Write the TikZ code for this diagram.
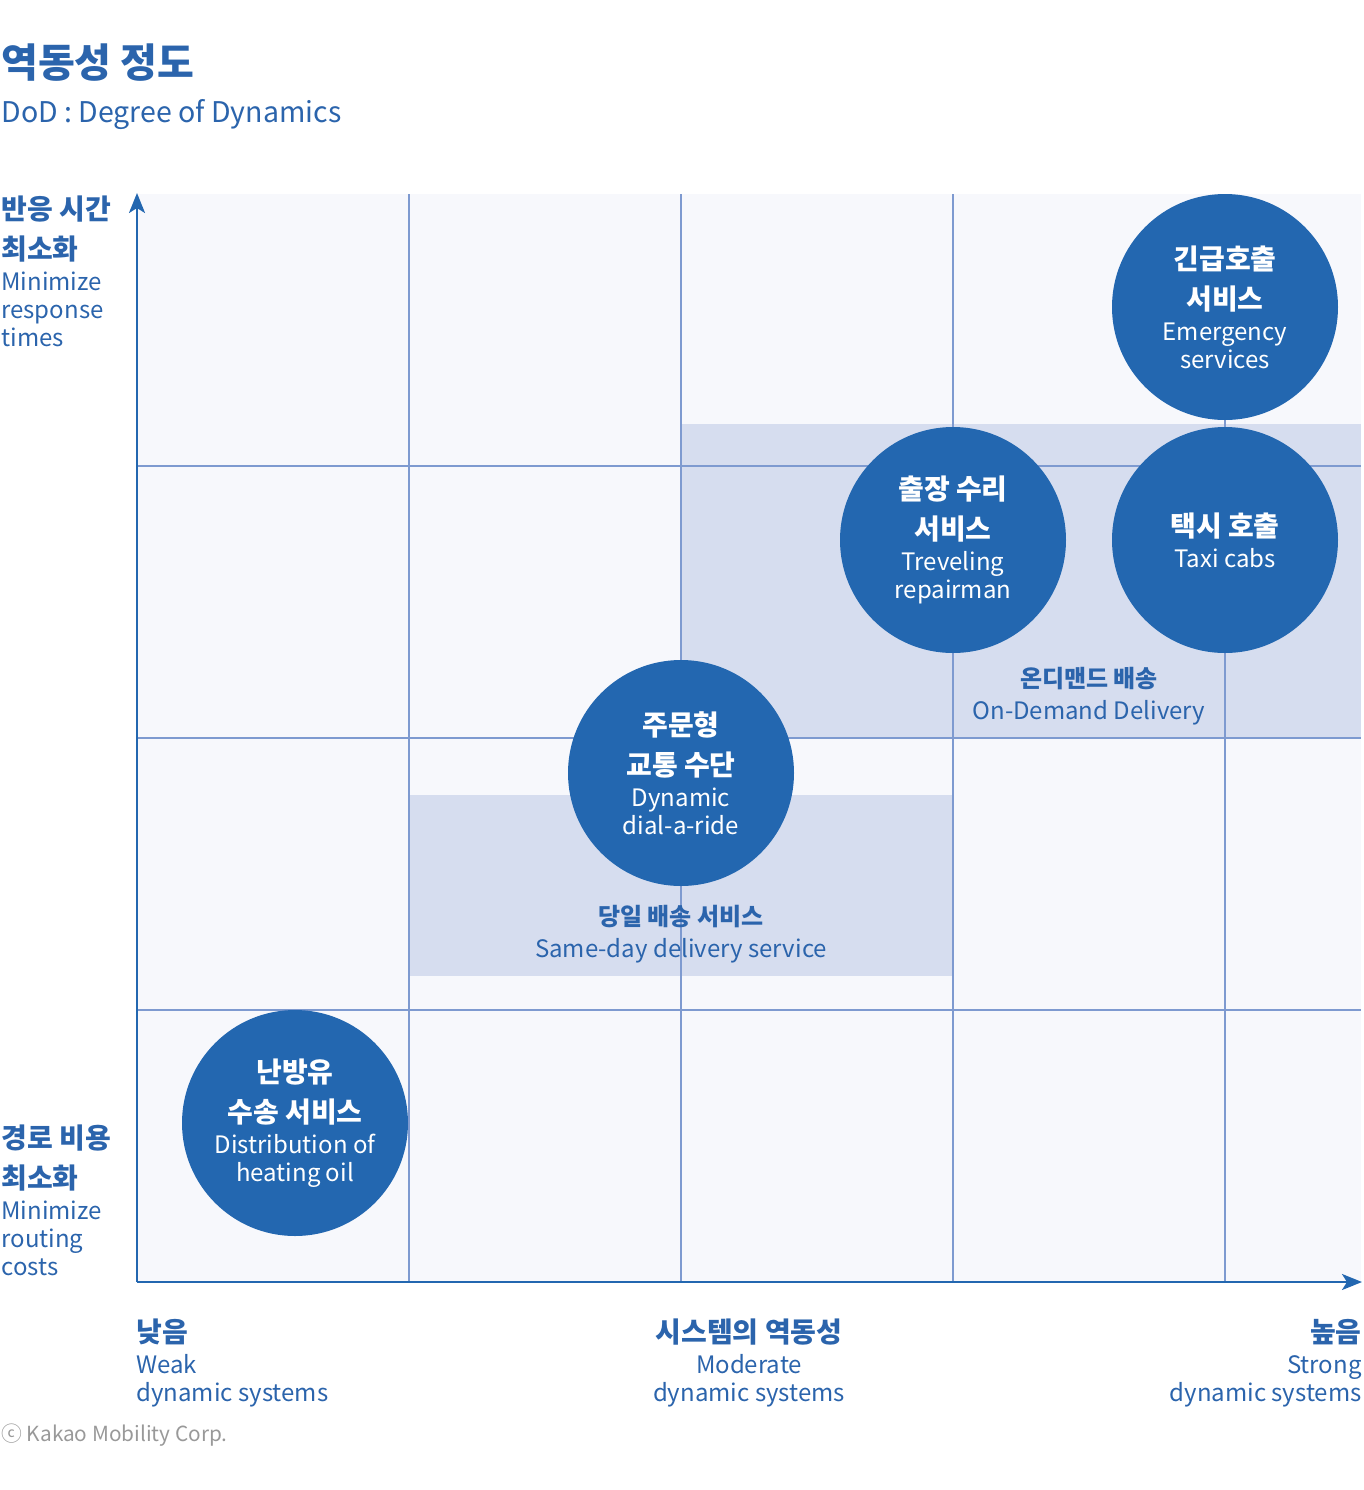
\documentclass[tikz,border=0pt]{standalone}
\usepackage{fontspec}
\setmainfont{Noto Sans CJK KR}
\usetikzlibrary{arrows.meta}
\definecolor{dodblue}{HTML}{2367B0}
\definecolor{dodtext}{HTML}{2B64AC}
\definecolor{dodshade}{HTML}{D6DDEF}
\definecolor{dodpanel}{HTML}{F7F8FC}
\definecolor{dodgrid}{HTML}{7E9AD0}
\definecolor{dodgrey}{HTML}{999999}
\newcommand{\kobig}{\bfseries\fontsize{14}{20}\selectfont}
\newcommand{\kosmall}{\bfseries\fontsize{12}{16}\selectfont}
\setlength{\lineskiplimit}{-20pt}

\begin{document}
\begin{tikzpicture}
[
x=0.5pt, y=-0.5pt,
every node/.style={inner sep=0pt, text=dodtext},
bubble/.style={circle, fill=dodblue, minimum size=113pt, text=white, align=center,
  font=\fontsize{12}{14}\selectfont},
axislabel/.style={font=\fontsize{12}{14}\selectfont},
zonelabel/.style={align=center, font=\fontsize{12}{16}\selectfont},
gridline/.style={draw=dodgrid, line width=0.75pt},
axisline/.style={draw=dodblue, line width=1.2pt, -{Stealth[length=10pt, width=8pt, inset=2.5pt]}}
]
\useasboundingbox (0,0) rectangle (1364,1490);

% panel and zones
\fill[dodpanel] (137,194) rectangle (1361,1282);
\fill[dodshade] (681,424) rectangle (1361,738);
\fill[dodshade] (409,795) rectangle (953,976);

% grid
\foreach \gx in {409,681,953,1225}
  \draw[gridline] (\gx,194) -- (\gx,1282);
\foreach \gy in {466,738,1010}
  \draw[gridline] (137,\gy) -- (1361,\gy);

% axes
\coordinate (origin) at (137,1282);
\coordinate (ytop) at (137,193);
\coordinate (xend) at (1362,1282);
\draw[axisline] (origin) -- (ytop);
\draw[axisline] (origin) -- (xend);

% title
\node[anchor=west, font=\bfseries\fontsize{20}{24}\selectfont] (title) at (1,63) {역동성 정도};
\node[anchor=west, font=\fontsize{14.25}{18}\selectfont] (subtitle) at (1,115) {DoD : Degree of Dynamics};

% y axis labels
\node[axislabel, anchor=west, align=left] (ytoplabel) at (1,271)
  {{\kobig 반응 시간}\\[6pt] {\kobig 최소화}\\[1.5pt] Minimize\\ response\\ times};
\node[axislabel, anchor=west, align=left] (ybotlabel) at (1,1200)
  {{\kobig 경로 비용}\\[6pt] {\kobig 최소화}\\[1.5pt] Minimize\\ routing\\ costs};

% x axis labels
\node[axislabel, anchor=west, align=left] (xweak) at (136,1363)
  {{\kobig 낮음}\\[1.5pt] Weak\\ dynamic systems};
\node[axislabel, anchor=center, align=center] (xmid) at (749,1363)
  {{\kobig 시스템의 역동성}\\[1.5pt] Moderate\\ dynamic systems};
\node[axislabel, anchor=east, align=right] (xstrong) at (1362,1363)
  {{\kobig 높음}\\[1.5pt] Strong\\ dynamic systems};

% zones
\node[zonelabel] (ondemand) at (1089,696) {{\kosmall 온디맨드 배송}\\ On-Demand Delivery};
\node[zonelabel] (sameday) at (681,934) {{\kosmall 당일 배송 서비스}\\ Same-day delivery service};

% bubbles
\node[bubble] (emergency) at (1225,307)
  {{\kobig 긴급호출}\\[6pt] {\kobig 서비스}\\[1.5pt] Emergency\\ services};
\node[bubble] (repair) at (953,540)
  {{\kobig 출장 수리}\\[6pt] {\kobig 서비스}\\[1.5pt] Treveling\\ repairman};
\node[bubble] (taxi) at (1225,540)
  {{\kobig 택시 호출}\\[1.5pt] Taxi cabs};
\node[bubble] (dialride) at (681,773)
  {{\kobig 주문형}\\[6pt] {\kobig 교통 수단}\\[1.5pt] Dynamic\\ dial-a-ride};
\node[bubble] (heating) at (295,1123)
  {{\kobig 난방유}\\[6pt] {\kobig 수송 서비스}\\[1.5pt] Distribution of\\ heating oil};

% credit
\node[anchor=west, text=dodgrey, font=\fontsize{10.4}{13}\selectfont] (credit) at (1,1435) {ⓒ Kakao Mobility Corp.};
\end{tikzpicture}
\end{document}
